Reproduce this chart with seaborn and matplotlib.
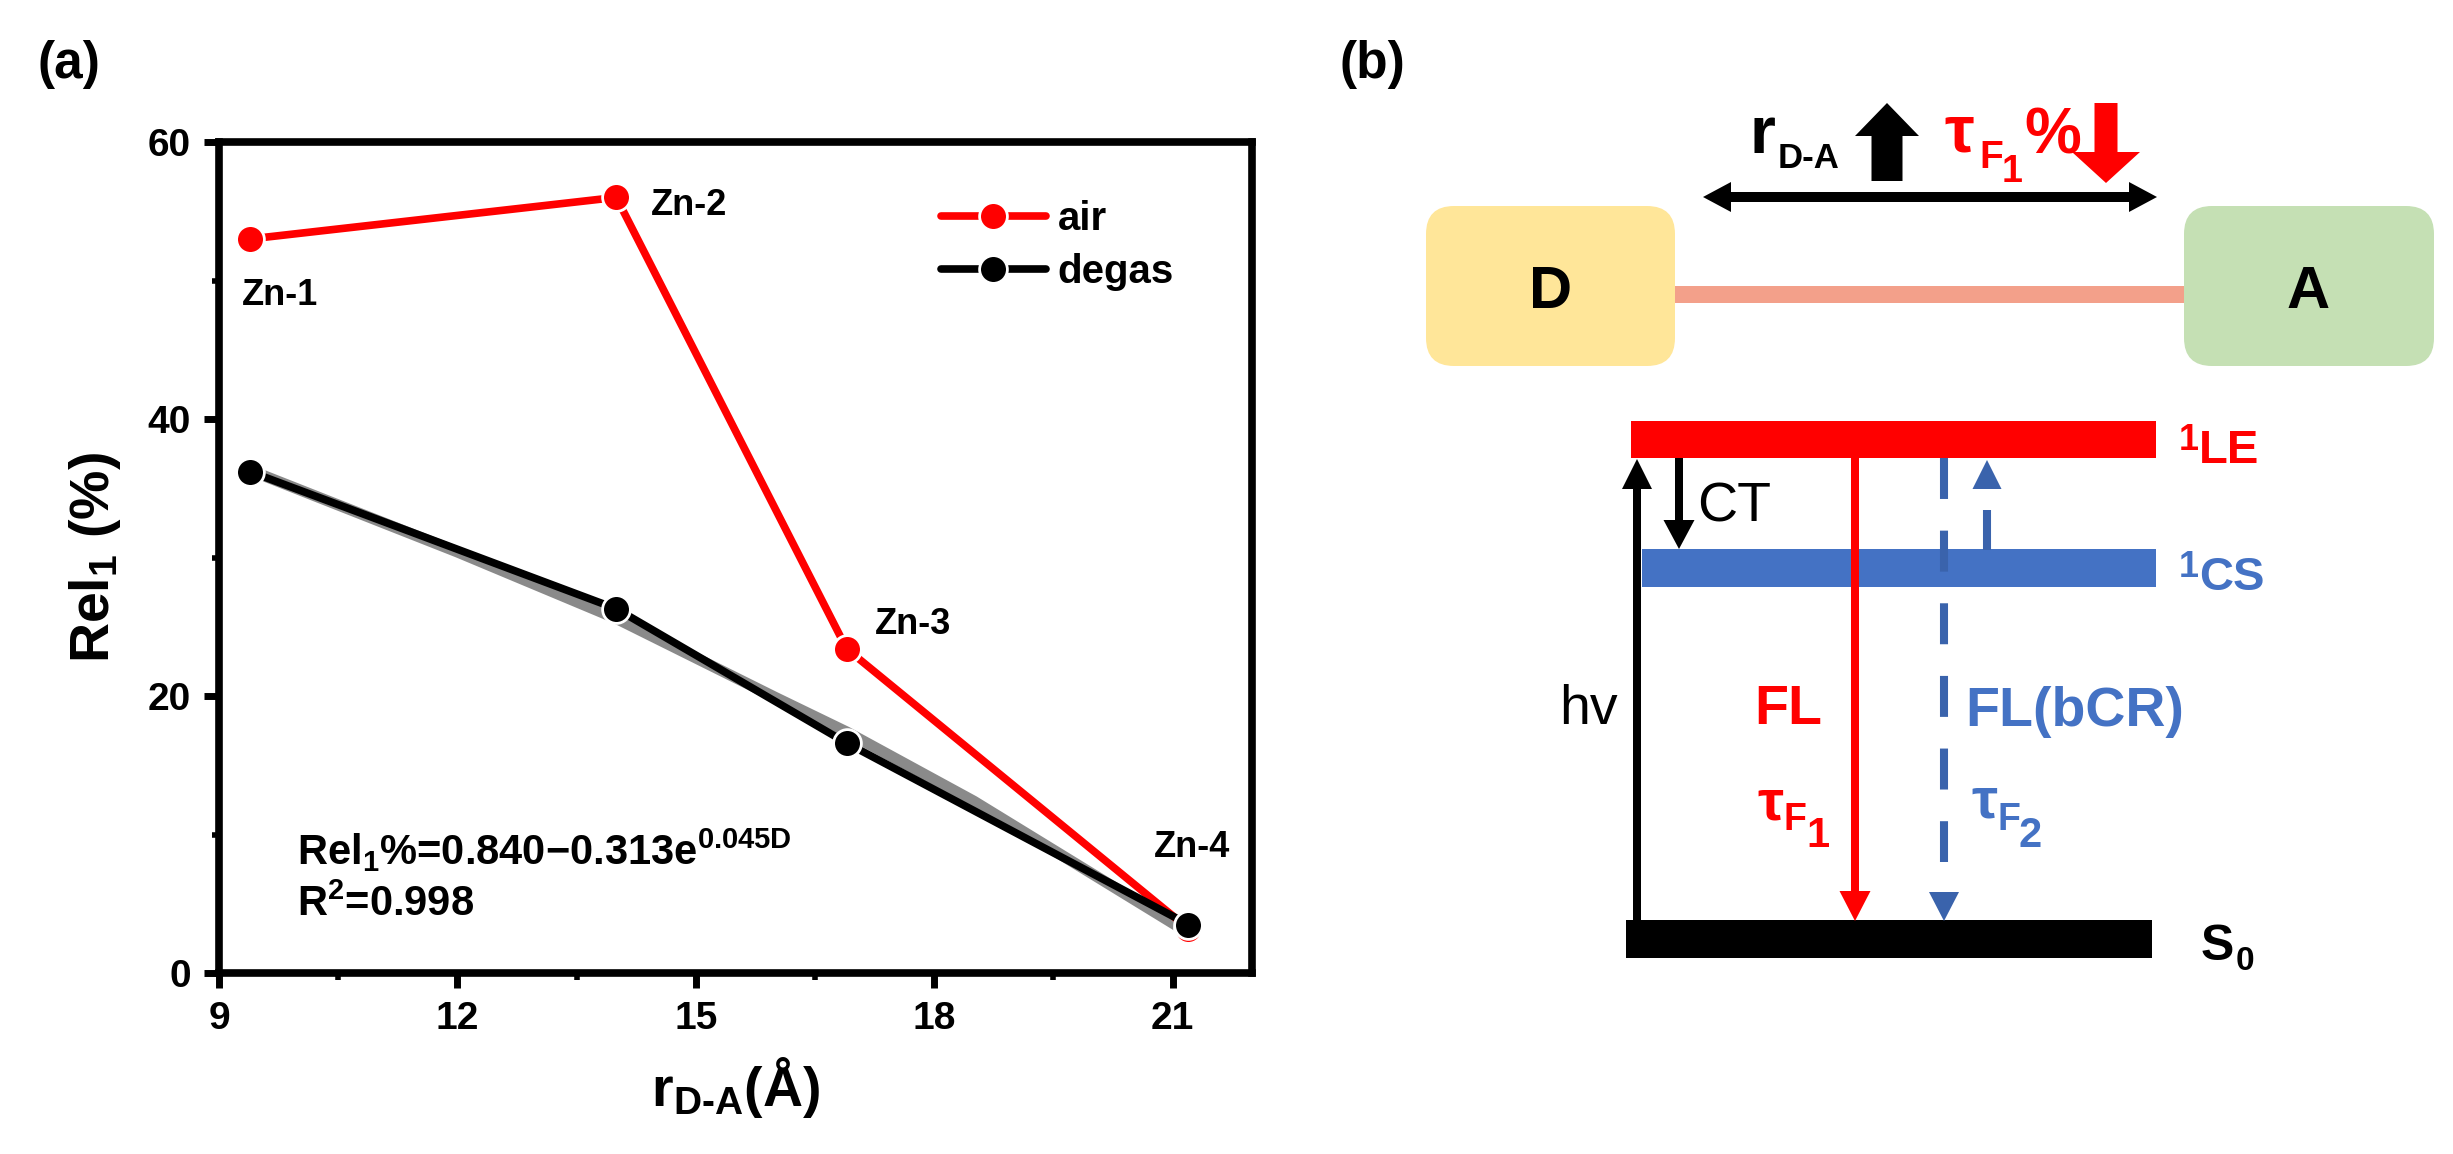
import numpy as np
import pandas as pd
import seaborn as sns
import matplotlib
matplotlib.use("Agg")
import matplotlib.pyplot as plt
from matplotlib.patches import FancyArrow, FancyBboxPatch, Rectangle, Polygon
from matplotlib.lines import Line2D
from matplotlib.ticker import MultipleLocator

# ---------------- data (panel a) ----------------
samples = ["Zn-1", "Zn-2", "Zn-3", "Zn-4"]
r_da = [9.39, 14.0, 16.9, 21.2]
rel_air = [53.0, 56.0, 23.4, 3.2]
rel_degas = [36.2, 26.3, 16.6, 3.5]
fit_x = [9.39, 12.0, 14.0, 16.0, 16.9, 18.5, 21.2]
fit_y = [36.3, 30.4, 25.6, 19.9, 17.4, 12.4, 2.9]
x_ticks = [9, 12, 15, 18, 21]
y_ticks = [0, 20, 40, 60]
legend_labels = ["air", "degas"]

W, H = 2453, 1154
RED = "#FF0000"
BLUE = "#4472C4"
DBLUE = "#3A63AC"

sns.set_theme(style="ticks")
plt.rcParams.update({
    "font.family": ["Liberation Sans", "DejaVu Sans"],
    "font.weight": "bold",
    "axes.labelweight": "bold",
    "mathtext.fontset": "custom",
    "mathtext.rm": "Liberation Sans:bold",
    "mathtext.it": "Liberation Sans:bold",
    "mathtext.bf": "Liberation Sans:bold",
    "mathtext.sf": "Liberation Sans:bold",
    "mathtext.default": "rm",
    "lines.scale_dashes": False,
    "axes.edgecolor": "black",
    "text.color": "black",
    "axes.labelcolor": "black",
    "xtick.color": "black",
    "ytick.color": "black",
})

fig = plt.figure(figsize=(W / 100, H / 100), dpi=100)

# ---------------- panel a ----------------
ax = fig.add_axes([219 / W, 1 - 973 / H, (1252 - 219) / W, (973 - 142) / H])
df = pd.DataFrame({
    "r": r_da + r_da,
    "rel": rel_air + rel_degas,
    "cond": ["air"] * 4 + ["degas"] * 4,
})
ax.plot(fit_x, fit_y, color="#8a8a8a", lw=8, zorder=1, solid_capstyle="round")
sns.lineplot(data=df, x="r", y="rel", hue="cond",
             palette={"air": RED, "degas": "#000000"},
             marker="o", markersize=20, markeredgecolor="white", markeredgewidth=2,
             linewidth=5.5, legend=False, sort=False, ax=ax, zorder=3)
ax.set_xlim(9, 22)
ax.set_ylim(0, 60)
ax.set_xticks(x_ticks)
ax.set_yticks(y_ticks)
ax.xaxis.set_minor_locator(MultipleLocator(1.5))
ax.yaxis.set_minor_locator(MultipleLocator(10))
ax.tick_params(which="major", direction="out", length=11, width=5, labelsize=28, pad=9)
ax.tick_params(which="minor", direction="out", length=5, width=4)
for s in ax.spines.values():
    s.set_linewidth(5.5)
    s.set_color("black")
ax.set_xlabel("r$_{\\mathrm{D\\text{-}A}}$(Å)", fontsize=40, labelpad=13)
ax.set_ylabel("Rel$_1$ (%)", fontsize=40, labelpad=18)
ax.set_facecolor("white")

label_pos = [(9.29, 48.2), (14.43, 54.7), (17.26, 24.5), (20.77, 8.4)]
for name, (lx, ly) in zip(samples, label_pos):
    ax.text(lx, ly, name, fontsize=26, fontweight="bold", ha="left", va="baseline")
ax.text(9.98, 7.8, "Rel$_1$%=0.840\u22120.313e$^{0.045D}$", fontsize=30,
        fontweight="bold", ha="left", va="baseline")
ax.text(9.98, 4.1, "R$^2$=0.998", fontsize=30, fontweight="bold", ha="left", va="baseline")

handles = [Line2D([], [], color=RED, lw=5.5, marker="o", ms=20, mec="white", mew=2),
           Line2D([], [], color="black", lw=5.5, marker="o", ms=20, mec="white", mew=2)]
ax.legend(handles, legend_labels, loc="upper left", bbox_to_anchor=(0.699, 0.93),
          frameon=False, fontsize=29, handlelength=2.6, handletextpad=0.3,
          labelspacing=0.36, borderpad=0, borderaxespad=0)

# ---------------- overlay (panel labels + panel b diagram) ----------------
ov = fig.add_axes([0, 0, 1, 1])
ov.set_xlim(0, W)
ov.set_ylim(H, 0)
ov.axis("off")


def T(x, y, s, size, color="black", weight="bold", ha="left", va="baseline"):
    ov.text(x, y, s, fontsize=size, color=color, fontweight=weight, ha=ha, va=va)


def arrow(x0, y0, x1, y1, w, hw, hl, color):
    ov.add_patch(FancyArrow(x0, y0, x1 - x0, y1 - y0, width=w, head_width=hw,
                            head_length=hl, length_includes_head=True,
                            color=color, lw=0))


T(37, 78, "(a)", 37)
T(1340, 78, "(b)", 37)

# D / A boxes
ov.add_patch(Rectangle((1675, 286), 2184 - 1675, 17, color="#F3A08A", lw=0))
ov.add_patch(FancyBboxPatch((1426, 206), 1675 - 1426, 160,
                            boxstyle="round,pad=0,rounding_size=28",
                            fc="#FFE699", ec="none"))
ov.add_patch(FancyBboxPatch((2184, 206), 2434 - 2184, 160,
                            boxstyle="round,pad=0,rounding_size=28",
                            fc="#C5E0B4", ec="none"))
T(1551, 308, "D", 43, ha="center")
T(2308, 308, "A", 43, ha="center")

# double-headed distance arrow
arrow(1930, 197, 1703, 197, 10, 30, 28, "black")
arrow(1930, 197, 2157, 197, 10, 30, 28, "black")

# r_D-A with up arrow
T(1750, 153, "r", 48)
T(1778, 168, "D-A", 25)
arrow(1887, 181, 1887, 103, 31, 64, 33, "black")
# tau_F1 % with down arrow
T(1944, 151, "τ", 48, color=RED)
T(1979, 168, "F", 28, color=RED)
T(2002, 182, "1", 27, color=RED)
T(2024, 154, "%", 46, color=RED)
arrow(2106, 103, 2106, 183, 23, 68, 31, RED)

# energy levels
ov.add_patch(Rectangle((1631, 421), 2156 - 1631, 37, color=RED, lw=0))
ov.add_patch(Rectangle((1642, 549), 2156 - 1642, 38, color=BLUE, lw=0))
ov.add_patch(Rectangle((1626, 920), 2152 - 1626, 38, color="black", lw=0))
T(2179, 450, "1", 26, color=RED)
T(2199, 463, "LE", 34, color=RED)
T(2179, 577, "1", 26, color=BLUE)
T(2199, 590, "CS", 34, color=BLUE)
T(2201, 960, "S", 36)
T(2236, 970, "0", 24)

# hv, CT, FL arrows
arrow(1637, 920, 1637, 459, 8, 30, 30, "black")
arrow(1679, 458, 1679, 549, 8, 31, 29, "black")
arrow(1855, 458, 1855, 921, 8, 31, 30, RED)
ov.plot([1944, 1944], [458, 862], color=DBLUE, lw=5.8, dashes=(29.5, 22.8),
        solid_capstyle="butt", dash_capstyle="butt")
ov.add_patch(Polygon([(1929, 892), (1959, 892), (1944, 921)], closed=True, color=DBLUE, lw=0))
ov.plot([1987, 1987], [550, 510], color=DBLUE, lw=5.8, solid_capstyle="butt")
ov.add_patch(Polygon([(1972.5, 489), (2001.5, 489), (1987, 460)], closed=True, color=DBLUE, lw=0))

T(1697, 522, "CT", 40, weight="normal")
T(1559, 724, "hv", 40, weight="normal")
T(1754, 724, "FL", 40, color=RED)
T(1965, 726, "FL(bCR)", 40, color=BLUE)
T(1757, 820, "τ", 42, color=RED)
T(1784, 830, "F", 27, color=RED)
T(1806, 847, "1", 30, color=RED)
T(1971, 818, "τ", 42, color=BLUE)
T(1998, 830, "F", 27, color=BLUE)
T(2019, 847, "2", 30, color=BLUE)

fig.savefig("out.png", dpi=100, facecolor="white")
